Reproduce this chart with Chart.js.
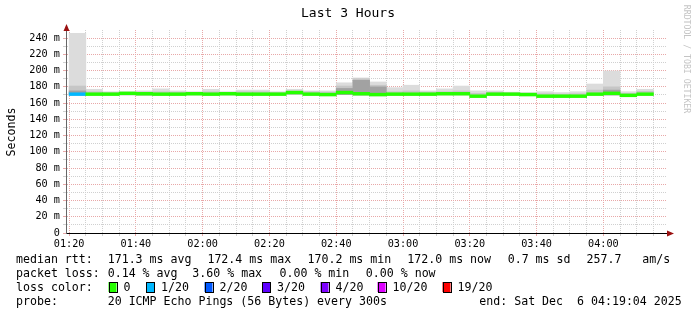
<!DOCTYPE html>
<html>
<head>
<meta charset="utf-8">
<script src="https://cdn.jsdelivr.net/npm/chart.js@4/dist/chart.umd.min.js"></script>
<style>
html, body { margin: 0; padding: 0; background: #fff; }
#wrap { width: 697px; height: 315px; }
</style>
</head>
<body>
<div id="wrap"><canvas id="rtt" width="697" height="315"></canvas></div>
<script>
// 5 minute steps (start of each step)
const slots = ['01:20', '01:25', '01:30', '01:35', '01:40', '01:45', '01:50', '01:55',
               '02:00', '02:05', '02:10', '02:15', '02:20', '02:25', '02:30', '02:35',
               '02:40', '02:45', '02:50', '02:55', '03:00', '03:05', '03:10', '03:15',
               '03:20', '03:25', '03:30', '03:35', '03:40', '03:45', '03:50', '03:55',
               '04:00', '04:05', '04:10'];
// median rtt, ms
const median = [171, 171, 171, 172, 171.5, 171, 171, 171.5, 171, 171.5,
                171, 171, 171, 173, 171, 170.5, 173, 171.5, 170.5, 171,
                171, 171, 171.5, 171.5, 168.5, 171, 171, 170.5, 168.5, 168.5,
                168.5, 171, 172, 169.5, 171];
// lost pings (of 20)
const lost = [1, 0, 0, 0, 0, 0, 0, 0, 0, 0, 0, 0, 0, 0, 0, 0, 0, 0,
              0, 0, 0, 0, 0, 0, 0, 0, 0, 0, 0, 0, 0, 0, 0, 0, 0];
// smoke: spread of the pings, ms
const smokeLow = [170, 169.5, 169.5, 170, 169.5, 169.5, 169.5, 170, 169.5, 170,
                  169.5, 169.5, 169.5, 170.5, 169.5, 169, 170.5, 170, 169, 169.5,
                  169.5, 169.5, 170, 170, 167, 169.5, 169.5, 169, 167, 167,
                  167, 169.5, 170, 168, 169.5];
const smokeHigh = [246, 177, 174, 174, 175, 177.5, 175, 174, 177, 174,
                   176, 176, 174, 177, 175, 175, 185, 191, 186, 179,
                   182, 175, 177.5, 181, 175, 175, 173.5, 173, 174, 173,
                   174, 183.5, 199.5, 174, 177];
const smokeMid = [181, 174, 173, 173, 173.5, 174, 173.5, 173, 174, 173,
                  174, 174, 173, 175, 174, 173.5, 181, 190, 182, 174,
                  175, 173.5, 174, 175, 172, 173.5, 172.5, 172, 171.5, 171,
                  171.5, 176, 180, 172, 174.5];
const smokeDark = [175, null, null, null, null, null, null, null, null, null,
                   null, null, null, null, null, null, 178, 188, 180, null,
                   null, null, null, null, null, null, null, null, null, null,
                   null, null, 176, null, null];

const xLabels = ['01:20', '01:40', '02:00', '02:20', '02:40', '03:00', '03:20', '03:40', '04:00'];
const yLabels = [0, 20, 40, 60, 80, 100, 120, 140, 160, 180, 200, 220, 240];

const lossSteps = [0, 1, 2, 3, 4, 10, 19];
const lossColors = ['#26ff00', '#00b8ff', '#0059ff', '#5e00ff', '#7e00ff', '#dd00ff', '#ff0000'];

const FONT = 'DejaVu Sans Mono';
const STEP = 5;
const MED_HALF = 1.7;
const MAJOR = '#e8a8a8';
const MINOR = '#d0d0d0';

const toMin = (s) => {
    const [h, m] = s.split(':').map(Number);
    return h * 60 + m;
};
const fmt = (v) => String(Math.floor(v / 60)).padStart(2, '0') + ':' + String(v % 60).padStart(2, '0');

const X_MAX = toMin('04:19') + 4 / 60;   // end: 04:19:04
const X_MIN = X_MAX - 180;

let xTicks = [];
for (let v = toMin(xLabels[0]); v < X_MAX; v += STEP) xTicks.push(v);
let yTicks = [];
for (let v = 0; v <= yLabels[yLabels.length - 1]; v += 10) yTicks.push(v);

const band = (lo, hi) => {
    let pts = [];
    slots.forEach((s, i) => {
        if (hi[i] == null) return;
        pts.push({ x: toMin(s) + STEP / 2, y: [lo[i], hi[i]] });
    });
    return pts;
};
const lossColor = (n) => {
    let c = lossColors[0];
    lossSteps.forEach((s, i) => { if (n >= s) c = lossColors[i]; });
    return c;
};

const barCommon = { grouped: false, barPercentage: 1, categoryPercentage: 1, borderWidth: 0 };

// text around the graph
const legendRows = [
    { y: 259.5, items: [[16, 'median rtt:'], [107.7, '171.3 ms avg'], [207.4, '172.4 ms max'], [307.5, '170.2 ms min'],
                        [407.3, '172.0 ms now'], [507.7, '0.7 ms sd'], [586.5, '257.7'], [642.3, 'am/s']] },
    { y: 273.5, items: [[16, 'packet loss:'], [107.7, '0.14 % avg'], [192.3, '3.60 % max'], [279.5, '0.00 % min'], [365.8, '0.00 % now']] },
    { y: 287.5, items: [[16, 'loss color:']] },
    { y: 301.5, items: [[16, 'probe:'], [107.7, '20 ICMP Echo Pings (56 Bytes) every 300s'], [479.3, 'end: Sat Dec  6 04:19:04 2025']] }
];
const lossLegendX = [108.5, 146, 204.5, 262, 320.5, 377.5, 442.5];
const lossLegendText = ['0', '1/20', '2/20', '3/20', '4/20', '10/20', '19/20'];

const decorations = {
    id: 'decorations',
    afterDraw(chart) {
        const ctx = chart.ctx;
        const a = chart.chartArea;
        ctx.save();
        // title
        ctx.fillStyle = '#000';
        ctx.font = `13px "${FONT}"`;
        ctx.textAlign = 'center';
        ctx.textBaseline = 'middle';
        ctx.fillText('Last 3 Hours', 348, 14);

        // vertical label
        ctx.save();
        ctx.translate(12, 132);
        ctx.rotate(-Math.PI / 2);
        ctx.font = `11.6px "${FONT}"`;
        ctx.fillText('Seconds', 0, 0);
        ctx.restore();

        // watermark
        ctx.save();
        ctx.translate(686, 59);
        ctx.rotate(Math.PI / 2);
        ctx.fillStyle = '#c4c4c4';
        ctx.font = `8.2px "${FONT}"`;
        ctx.fillText('RRDTOOL / TOBI OETIKER', 0, 0);
        ctx.restore();

        // axis arrows
        const ax = Math.round(a.left) + 0.5;
        const ay = Math.round(a.bottom) + 0.5;
        ctx.strokeStyle = '#000';
        ctx.lineWidth = 1;
        ctx.beginPath();
        ctx.moveTo(a.right, ay);
        ctx.lineTo(a.right + 4, ay);
        ctx.stroke();
        ctx.strokeStyle = '#666';
        ctx.beginPath();
        ctx.moveTo(ax, a.top);
        ctx.lineTo(ax, a.top - 3);
        ctx.stroke();
        ctx.fillStyle = '#9a1010';
        ctx.beginPath();
        ctx.moveTo(ax, a.top - 6);
        ctx.lineTo(ax - 3, a.top + 1);
        ctx.lineTo(ax + 3, a.top + 1);
        ctx.closePath();
        ctx.fill();
        ctx.beginPath();
        ctx.moveTo(a.right + 7, ay);
        ctx.lineTo(a.right, ay - 3);
        ctx.lineTo(a.right, ay + 3);
        ctx.closePath();
        ctx.fill();

        // legend lines
        ctx.fillStyle = '#000';
        ctx.font = `11.6px "${FONT}"`;
        ctx.textAlign = 'left';
        ctx.textBaseline = 'middle';
        legendRows.forEach(row => {
            row.items.forEach(([x, t]) => ctx.fillText(t, x, row.y));
        });
        const ly = legendRows[2].y;
        lossLegendX.forEach((x, i) => {
            ctx.fillStyle = lossColors[i];
            ctx.fillRect(x, ly - 5.5, 8, 10);
            ctx.strokeStyle = '#000';
            ctx.strokeRect(Math.round(x) + 0.5, Math.round(ly - 5.5) + 0.5, 8, 10);
            ctx.fillStyle = '#000';
            ctx.fillText(lossLegendText[i], x + 15, ly);
        });
        ctx.restore();
    }
};

const gridColor = (c) => (c.tick && c.tick.value % 20 === 0) ? MAJOR : MINOR;

new Chart(document.getElementById('rtt').getContext('2d'), {
    type: 'bar',
    plugins: [decorations],
    data: {
        datasets: [{
            ...barCommon,
            label: 'median',
            order: 0,
            data: slots.map((s, i) => ({ x: toMin(s) + STEP / 2, y: [median[i] - MED_HALF, median[i] + MED_HALF] })),
            backgroundColor: lost.map(lossColor)
        }, {
            ...barCommon,
            label: 'smoke dark',
            order: 1,
            data: band(smokeLow, smokeDark),
            backgroundColor: '#a2a2a2'
        }, {
            ...barCommon,
            label: 'smoke mid',
            order: 2,
            data: band(smokeLow, smokeMid),
            backgroundColor: '#c6c6c6'
        }, {
            ...barCommon,
            label: 'smoke',
            order: 3,
            data: band(smokeLow, smokeHigh),
            backgroundColor: '#dcdcdc'
        }]
    },
    options: {
        responsive: false,
        animation: false,
        layout: { padding: { top: 30, right: 30, left: 0, bottom: 0 } },
        plugins: {
            legend: { display: false },
            tooltip: { enabled: false }
        },
        scales: {
            x: {
                type: 'linear',
                min: X_MIN,
                max: X_MAX,
                offset: false,
                z: 1,
                afterBuildTicks: (s) => { s.ticks = xTicks.map(v => ({ value: v })); },
                afterFit: (s) => { s.height = 82; },
                grid: { offset: false, color: gridColor, tickColor: gridColor, tickLength: 3 },
                border: { color: '#000', width: 1, dash: [1, 1] },
                ticks: {
                    autoSkip: false,
                    maxRotation: 0,
                    padding: 2,
                    color: '#000',
                    font: { family: FONT, size: 10.2 },
                    callback: (v) => xLabels.includes(fmt(v)) ? fmt(v) : ''
                }
            },
            y: {
                min: 0,
                max: 250,
                z: 1,
                afterBuildTicks: (s) => { s.ticks = yTicks.map(v => ({ value: v })); },
                afterFit: (s) => { s.width = 66; },
                grid: { color: gridColor, tickColor: gridColor, tickLength: 3 },
                border: { color: '#666', width: 1, dash: [1, 1] },
                ticks: {
                    autoSkip: false,
                    padding: 3,
                    color: '#000',
                    font: { family: FONT, size: 10.2 },
                    callback: (v) => yLabels.includes(v) ? (v === 0 ? '0' : v + ' m') : ''
                }
            }
        }
    }
});
</script>
</body>
</html>
